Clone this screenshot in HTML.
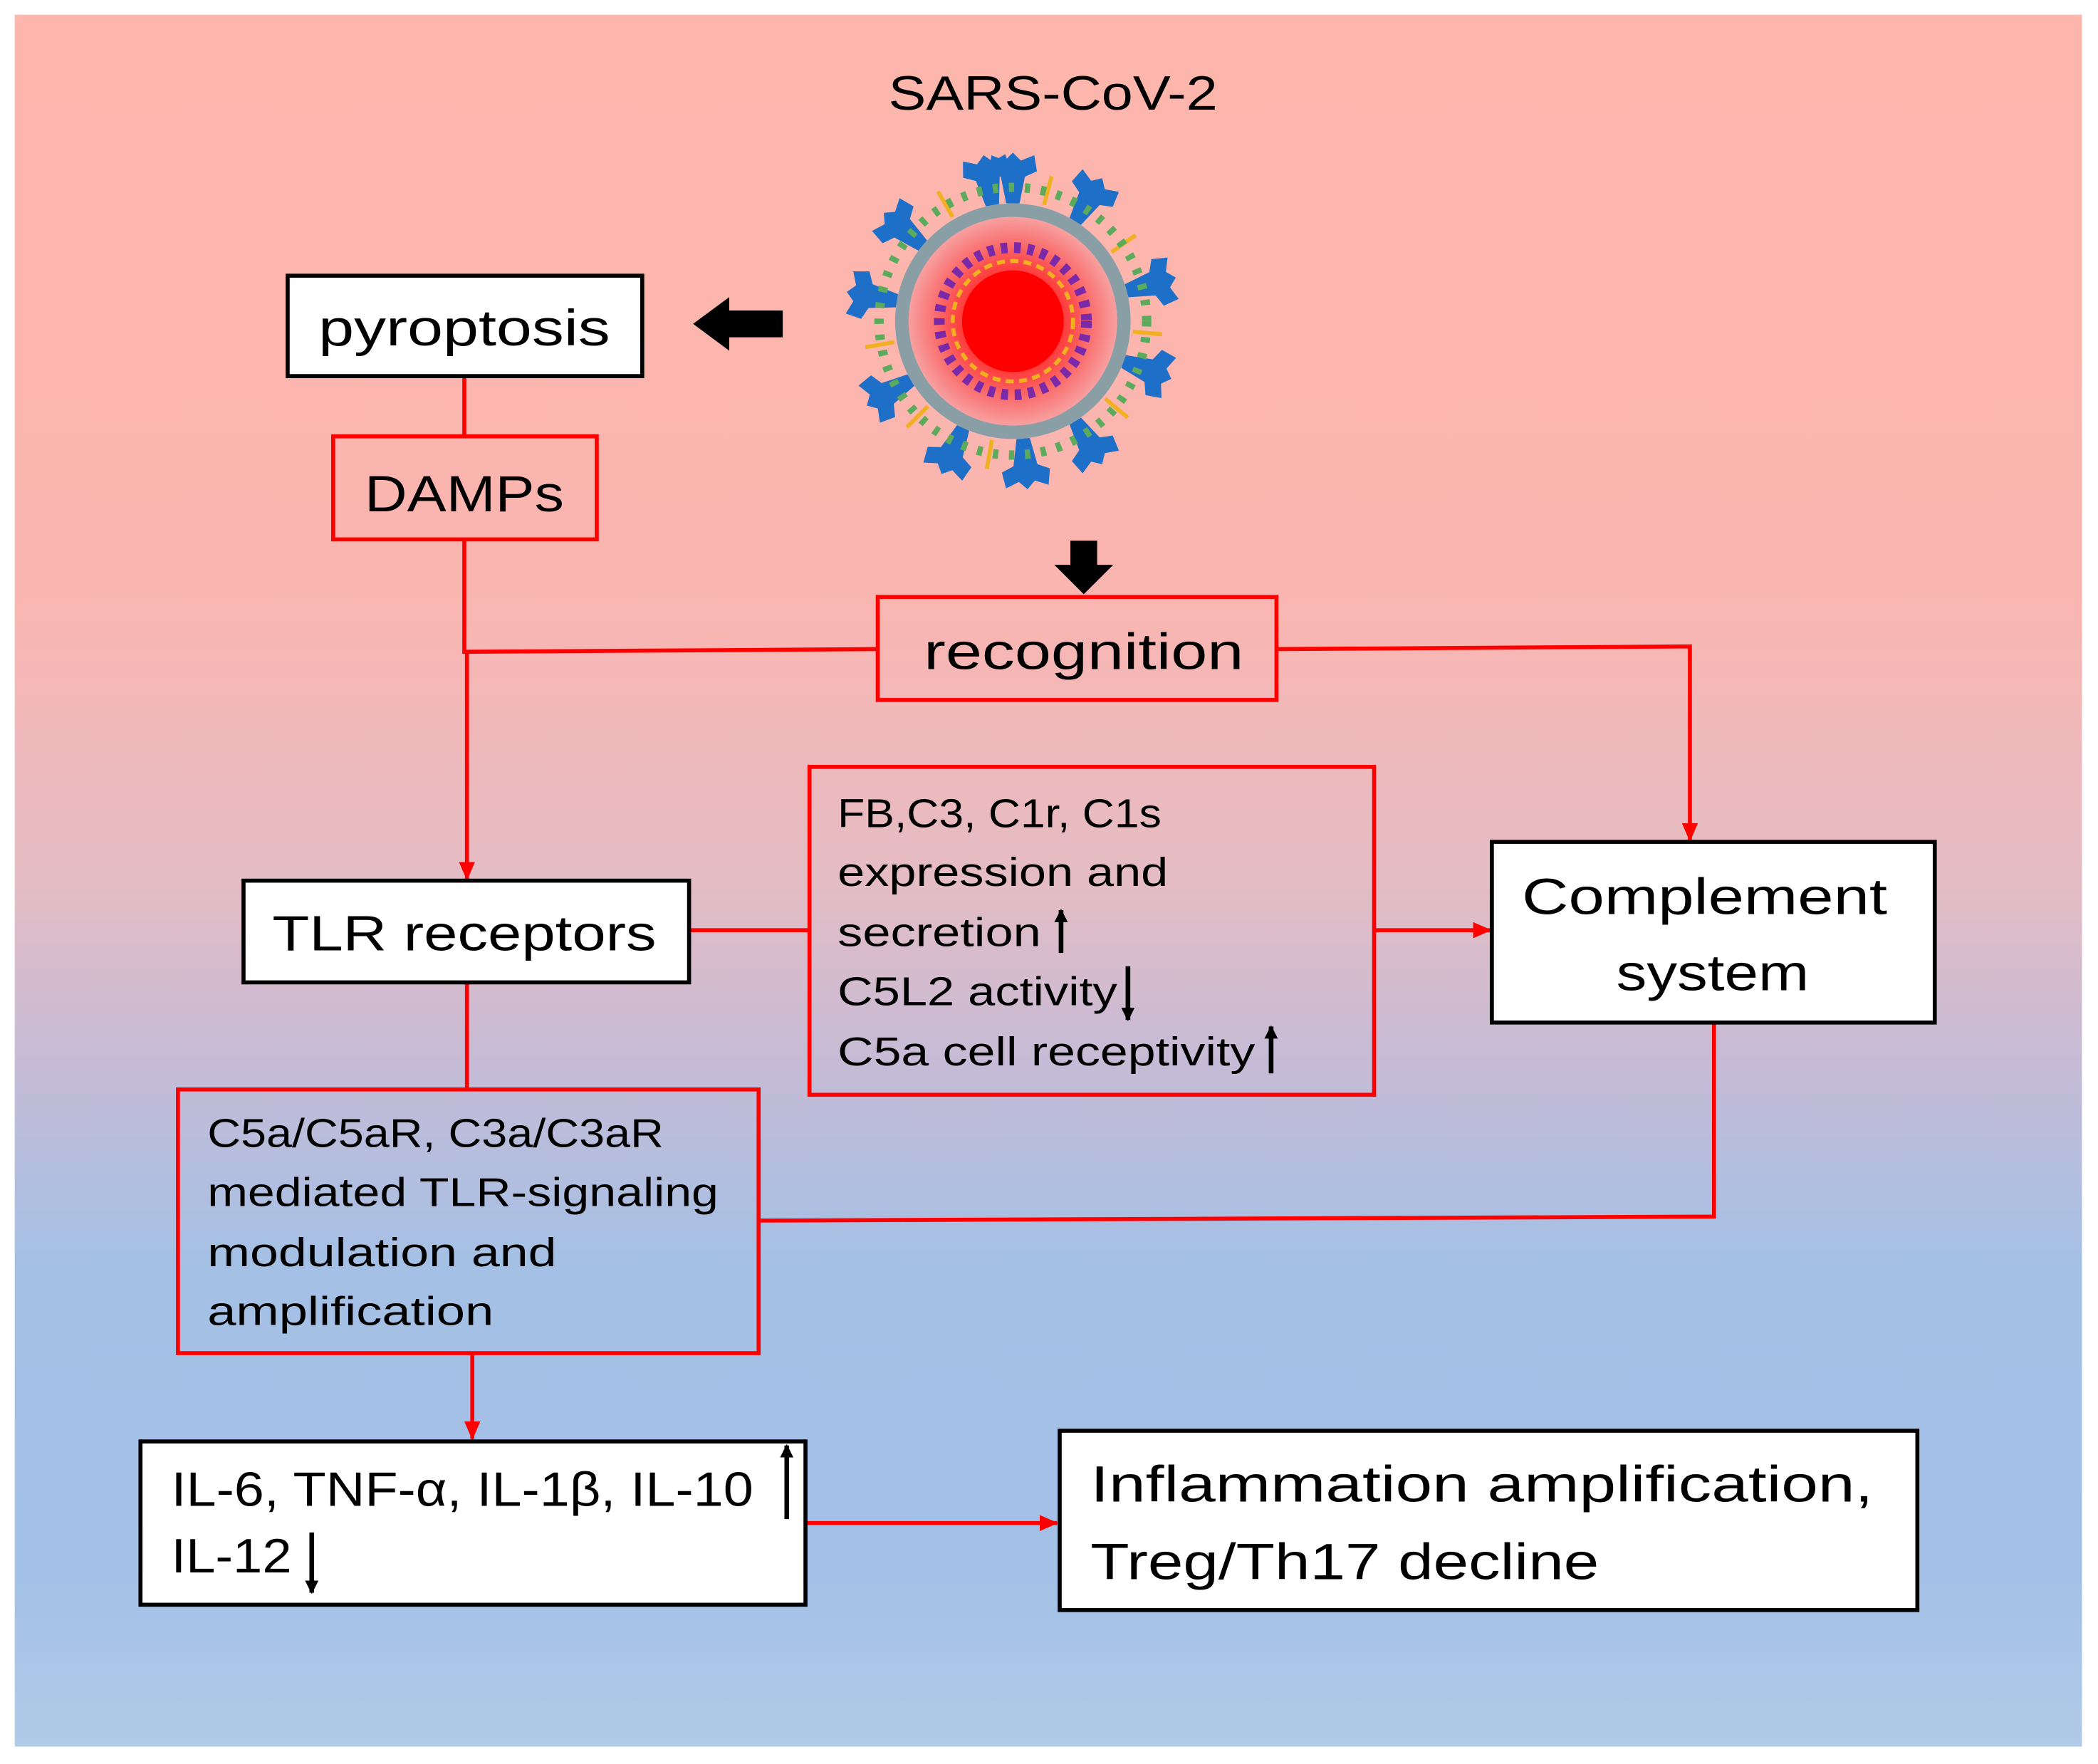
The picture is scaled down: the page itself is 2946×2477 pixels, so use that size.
<!DOCTYPE html>
<html><head><meta charset="utf-8"><style>html,body{margin:0;padding:0;background:#fff}svg{display:block}</style></head><body>
<svg width="2946" height="2477" viewBox="0 0 1568 1318" preserveAspectRatio="none" xmlns="http://www.w3.org/2000/svg" font-family="Liberation Sans, sans-serif">
<defs>
<linearGradient id="bg" x1="0" y1="0" x2="0" y2="1">
<stop offset="0" stop-color="#fcb6ac"/>
<stop offset="0.33" stop-color="#fbb5b0"/>
<stop offset="0.5" stop-color="#e4bcc4"/>
<stop offset="0.6" stop-color="#c7bbd5"/>
<stop offset="0.72" stop-color="#a5c0e5"/>
<stop offset="0.9" stop-color="#a3c0e6"/>
<stop offset="1" stop-color="#b2cae9"/>
</linearGradient>
<radialGradient id="core" cx="0.5" cy="0.5" r="0.5">
<stop offset="0" stop-color="#ff0000"/>
<stop offset="0.35" stop-color="#ff2020"/>
<stop offset="1" stop-color="#f7a0a0"/>
</radialGradient>
<marker id="ar" markerWidth="14" markerHeight="12" refX="13" refY="6" orient="auto" markerUnits="userSpaceOnUse"><path d="M0,0 L14,6 L0,12 Z" fill="#f00"/></marker>
<marker id="ab" markerWidth="10" markerHeight="12" refX="9" refY="5" orient="auto" markerUnits="userSpaceOnUse"><path d="M0,0 L10,5 L0,10 Z" fill="#000"/></marker>
</defs>
<rect x="11" y="11" width="1545" height="1294" fill="url(#bg)"/>
<text x="787" y="82" font-size="36" text-anchor="middle" textLength="246" lengthAdjust="spacingAndGlyphs">SARS-CoV-2</text>
<!-- virus -->
<g transform="translate(757,240)">
<g fill="#1e6fc8">
<g id="sp"><path d="M-5,-88 L-9,-108 L-18,-112 L-16,-124 L-6,-120 L0,-126 L6,-120 L16,-124 L18,-112 L9,-108 L5,-88 Z"/></g>
<use href="#sp" transform="rotate(32)"/><use href="#sp" transform="rotate(75)"/><use href="#sp" transform="rotate(110)"/><use href="#sp" transform="rotate(148)"/><use href="#sp" transform="rotate(175)"/><use href="#sp" transform="rotate(205)"/><use href="#sp" transform="rotate(240)"/><use href="#sp" transform="rotate(280)"/><use href="#sp" transform="rotate(310)"/><use href="#sp" transform="rotate(350)"/>
</g>
<g stroke="#f0b020" stroke-width="3" fill="#f0b020">
<line x1="0" y1="-90" x2="0" y2="-112" transform="rotate(15)"/><line x1="0" y1="-90" x2="0" y2="-112" transform="rotate(55)"/><line x1="0" y1="-90" x2="0" y2="-112" transform="rotate(95)"/><line x1="0" y1="-90" x2="0" y2="-112" transform="rotate(130)"/><line x1="0" y1="-90" x2="0" y2="-112" transform="rotate(190)"/><line x1="0" y1="-90" x2="0" y2="-112" transform="rotate(225)"/><line x1="0" y1="-90" x2="0" y2="-112" transform="rotate(260)"/><line x1="0" y1="-90" x2="0" y2="-112" transform="rotate(330)"/>
</g>
<circle r="100" fill="none" stroke="#5caa5c" stroke-width="7" stroke-dasharray="4 8"/>
<circle r="88" fill="#8a9ea6"/>
<circle r="78" fill="url(#core)"/>
<circle r="55" fill="none" stroke="#7a2aa8" stroke-width="8" stroke-dasharray="5 5"/>
<circle r="45" fill="none" stroke="#f0b020" stroke-width="3" stroke-dasharray="6 4"/>
<circle r="38" fill="#ff0000"/>
</g>
<!-- black arrows -->
<path d="M518,242 L545,222 L545,232 L585,232 L585,252 L545,252 L545,262 Z" fill="#000"/>
<path d="M800,404 L820,404 L820,422 L832,422 L810,444 L788,422 L800,422 Z" fill="#000"/>
<!-- connectors -->
<g stroke="#f00" stroke-width="3" fill="none">
<line x1="347" y1="281" x2="347" y2="326"/>
<polyline points="347,403 347,487 656,485"/>
<line x1="349" y1="487" x2="349" y2="657" marker-end="url(#ar)"/>
<polyline points="954,485 1263,483 1263,628" marker-end="url(#ar)"/>
<line x1="515" y1="695" x2="605" y2="695"/>
<line x1="1027" y1="695" x2="1114" y2="695" marker-end="url(#ar)"/>
<polyline points="1281,764 1281,909 567,912"/>
<line x1="349" y1="734" x2="349" y2="814"/>
<line x1="353" y1="1011" x2="353" y2="1075" marker-end="url(#ar)"/>
<line x1="602" y1="1138" x2="790" y2="1138" marker-end="url(#ar)"/>
</g>
<!-- boxes -->
<rect x="215" y="206" width="265" height="75" fill="#fff" stroke="#000" stroke-width="3"/>
<text x="347" y="258" font-size="38" text-anchor="middle" textLength="218" lengthAdjust="spacingAndGlyphs">pyroptosis</text>
<rect x="249" y="326" width="197" height="77" fill="none" stroke="#f00" stroke-width="3"/>
<text x="347" y="382" font-size="38" text-anchor="middle" textLength="149" lengthAdjust="spacingAndGlyphs">DAMPs</text>
<rect x="656" y="446" width="298" height="77" fill="none" stroke="#f00" stroke-width="3"/>
<text x="810" y="500" font-size="38" text-anchor="middle" textLength="239" lengthAdjust="spacingAndGlyphs">recognition</text>
<rect x="182" y="658" width="333" height="76" fill="#fff" stroke="#000" stroke-width="3"/>
<text x="347" y="710" font-size="37" text-anchor="middle" textLength="287" lengthAdjust="spacingAndGlyphs">TLR receptors</text>
<rect x="605" y="573" width="422" height="245" fill="none" stroke="#f00" stroke-width="3"/>
<g font-size="30">
<text x="626" y="618" textLength="242" lengthAdjust="spacingAndGlyphs">FB,C3, C1r, C1s</text>
<text x="626" y="662" textLength="247" lengthAdjust="spacingAndGlyphs">expression and</text>
<text x="626" y="707" textLength="152" lengthAdjust="spacingAndGlyphs">secretion</text>
<text x="626" y="751" textLength="209" lengthAdjust="spacingAndGlyphs">C5L2 activity</text>
<text x="626" y="796" textLength="312" lengthAdjust="spacingAndGlyphs">C5a cell receptivity</text>
</g>
<rect x="1115" y="629" width="331" height="135" fill="#fff" stroke="#000" stroke-width="3"/>
<text x="1274" y="683" font-size="38" text-anchor="middle" textLength="273" lengthAdjust="spacingAndGlyphs">Complement</text>
<text x="1280" y="740" font-size="38" text-anchor="middle" textLength="144" lengthAdjust="spacingAndGlyphs">system</text>
<rect x="133" y="814" width="434" height="197" fill="none" stroke="#f00" stroke-width="3"/>
<g font-size="30">
<text x="155" y="857" textLength="341" lengthAdjust="spacingAndGlyphs">C5a/C5aR, C3a/C3aR</text>
<text x="155" y="901" textLength="382" lengthAdjust="spacingAndGlyphs">mediated TLR-signaling</text>
<text x="155" y="946" textLength="261" lengthAdjust="spacingAndGlyphs">modulation and</text>
<text x="155" y="990" textLength="214" lengthAdjust="spacingAndGlyphs">amplification</text>
</g>
<rect x="105" y="1077" width="497" height="122" fill="#fff" stroke="#000" stroke-width="3"/>
<text x="128" y="1125" font-size="36" textLength="435" lengthAdjust="spacingAndGlyphs">IL-6, TNF-α, IL-1β, IL-10</text>
<text x="128" y="1175" font-size="36" textLength="90" lengthAdjust="spacingAndGlyphs">IL-12</text>
<rect x="792" y="1069" width="641" height="134" fill="#fff" stroke="#000" stroke-width="3"/>
<text x="815" y="1122" font-size="38" textLength="585" lengthAdjust="spacingAndGlyphs">Inflammation amplification,</text>
<text x="815" y="1180" font-size="38" textLength="380" lengthAdjust="spacingAndGlyphs">Treg/Th17 decline</text>
<!-- small arrows -->
<g stroke="#000" stroke-width="3.5">
<line x1="793" y1="712" x2="793" y2="680" marker-end="url(#ab)"/>
<line x1="843" y1="722" x2="843" y2="762" marker-end="url(#ab)"/>
<line x1="950" y1="802" x2="950" y2="767" marker-end="url(#ab)"/>
<line x1="588" y1="1135" x2="588" y2="1080" marker-end="url(#ab)"/>
<line x1="233" y1="1145" x2="233" y2="1190" marker-end="url(#ab)"/>
</g>
</svg>
</body></html>
